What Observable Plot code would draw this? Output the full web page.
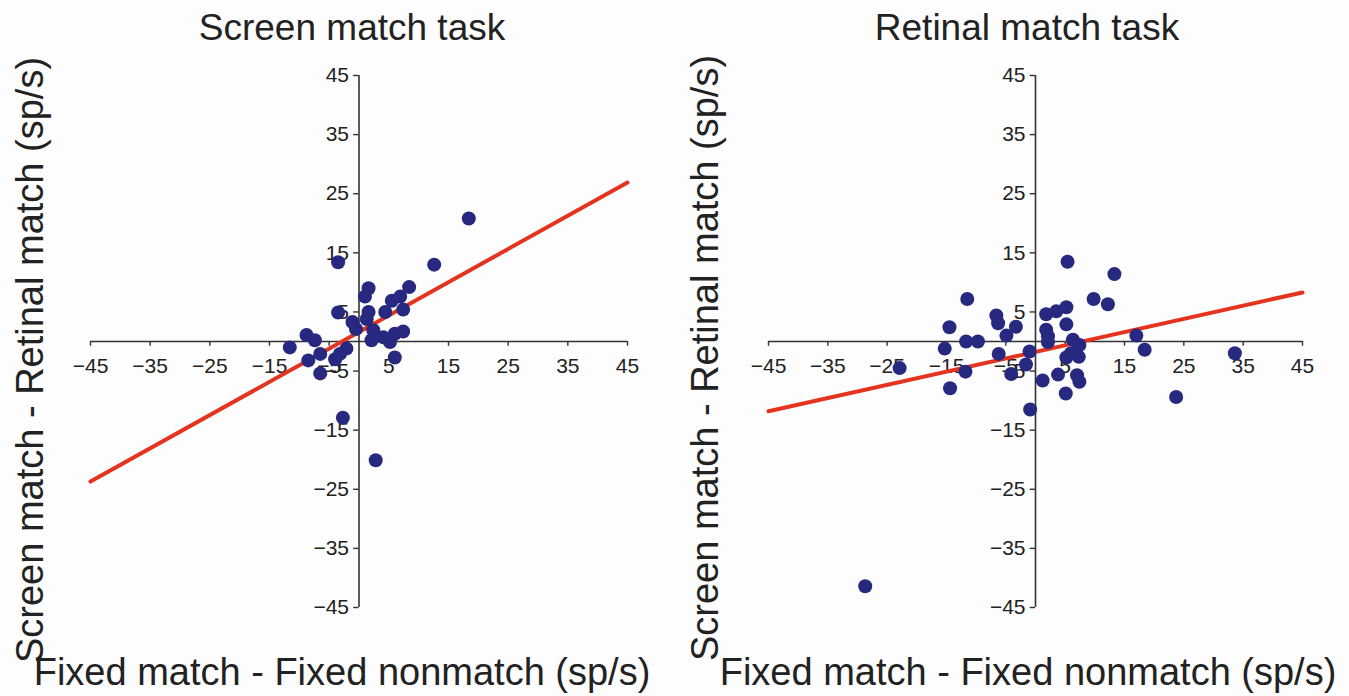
<!DOCTYPE html>
<html>
<head>
<meta charset="utf-8">
<script src="https://cdn.jsdelivr.net/npm/d3@7"></script>
<script src="https://cdn.jsdelivr.net/npm/@observablehq/plot@0.6"></script>
<style>
  html, body { margin: 0; padding: 0; background: #fdfdfd; }
  #wrap { position: relative; width: 1349px; height: 696px; overflow: hidden; font-family: "Liberation Sans", Arial, Helvetica, sans-serif; color: #222; }
  .panel { position: absolute; top: 0; }
  .lbl { position: absolute; white-space: nowrap; line-height: 1; }
  .title { font-size: 37px; transform: translate(-50%, -50%); }
  .xlab { font-size: 38px; transform: translate(-50%, -50%); }
  .ylab { font-size: 38px; transform: translate(-50%, -50%) rotate(-90deg); }
</style>
</head>
<body>
<div id="wrap"></div>
<script>
// ---- data ----
const titles = ["Screen match task", "Retinal match task"];
const xAxisLabel = "Fixed match - Fixed nonmatch (sp/s)";
const yAxisLabel = "Screen match - Retinal match (sp/s)";

const tickValues = [-45, -35, -25, -15, -5, 5, 15, 25, 35, 45];
const tickLabels = ["\u221245", "\u221235", "\u221225", "\u221215", "\u22125", "5", "15", "25", "35", "45"];

const screenX = [-3.5, 12.6, 1.6, 1.0, 8.4, 6.9, 5.5, 7.4, 4.4, -3.5, 1.6, 1.3, -1.1, -0.5, 2.4, 7.4, 6.0, 2.1, 4.1, 5.2, -8.8, -7.4, -11.6, -6.5, -8.5, -6.5, -2.1, -3.2, -4.0, 6.0, -2.7, 2.8, 18.4];
const screenY = [13.4, 13.0, 9.0, 7.6, 9.2, 7.6, 6.9, 5.4, 5.0, 4.9, 5.0, 3.8, 3.3, 2.1, 1.9, 1.7, 1.3, 0.2, 0.7, -0.1, 1.1, 0.2, -1.0, -2.1, -3.2, -5.4, -1.2, -2.1, -3.0, -2.7, -12.9, -20.1, 20.8];

const retinalX = [5.4, 13.3, 9.8, 12.2, -11.5, -14.5, -15.3, -11.7, -9.7, -6.6, -6.3, -3.3, -4.9, -6.2, -1.0, -1.6, -4.1, -11.8, -14.4, -0.9, 1.2, 3.8, 5.1, 1.8, 3.5, 5.2, 1.8, 2.1, 2.1, 5.2, 6.3, 7.4, 6.0, 7.3, 5.2, 7.0, 7.4, 17.0, 18.4, 23.7, -22.9, 33.6, -28.7];
const retinalY = [13.5, 11.4, 7.2, 6.3, 7.2, 2.4, -1.2, 0, 0, 4.4, 3.1, 2.5, 1.0, -2.1, -1.7, -3.9, -5.5, -5.1, -7.9, -11.5, -6.6, -5.6, -8.8, 4.6, 5.1, 5.8, 2.0, 0.9, -0.1, 2.9, 0.3, -0.6, -2.0, -2.6, -2.7, -5.7, -6.8, 1.0, -1.4, -9.4, -4.5, -2.0, -41.4];

const fitX = [-45, 45];
const screenFitY = [-23.7, 26.9];
const retinalFitY = [-11.8, 8.3];

// ---- drawing ----
const wrap = document.getElementById("wrap");
const dotColor = "#27287f";
const lineColor = "#e4341f";
const axisColor = "#333";

function panel(xs, ys, fitYs, left, marginLeft) {
  const pts = xs.map((x, i) => ({x, y: ys[i]}));
  const fit = fitX.map((x, i) => ({x, y: fitYs[i]}));
  const ticks = tickValues.map((v, i) => ({v, label: tickLabels[i]}));
  const svg = Plot.plot({
    width: 674,
    height: 696,
    marginLeft,
    marginRight: 47,
    marginTop: 75,
    marginBottom: 89,
    style: {background: "transparent", fontFamily: "Liberation Sans, Arial, sans-serif"},
    x: {domain: [-45, 45], axis: null},
    y: {domain: [-45, 45], axis: null},
    marks: [
      Plot.ruleY([0], {x1: -45, x2: 45, stroke: axisColor, strokeWidth: 1.6}),
      Plot.ruleX([0], {y1: -45, y2: 45, stroke: axisColor, strokeWidth: 1.6}),
      Plot.ruleX(ticks, {x: "v", y1: 0, y2: -0.8, stroke: axisColor, strokeWidth: 1.4}),
      Plot.ruleY(ticks, {y: "v", x1: -0.9, x2: 0, stroke: axisColor, strokeWidth: 1.4}),
      Plot.text(ticks, {x: "v", y: 0, text: "label", dy: 25, fontSize: 21, fill: "#222"}),
      Plot.text(ticks, {x: 0, y: "v", text: "label", dx: -10, textAnchor: "end", fontSize: 21, fill: "#222"}),
      Plot.line(fit, {x: "x", y: "y", stroke: lineColor, strokeWidth: 4}),
      Plot.dot(pts, {x: "x", y: "y", r: 7, fill: dotColor, stroke: "none"})
    ]
  });
  svg.classList.add("panel");
  svg.style.left = left + "px";
  wrap.appendChild(svg);
}

panel(screenX, screenY, screenFitY, 0, 90);
panel(retinalX, retinalY, retinalFitY, 675, 93);

function label(text, cls, x, y) {
  const d = document.createElement("div");
  d.className = "lbl " + cls;
  d.textContent = text;
  d.style.left = x + "px";
  d.style.top = y + "px";
  wrap.appendChild(d);
}
label(titles[0], "title", 352, 27);
label(titles[1], "title", 1027, 27);
label(xAxisLabel, "xlab", 342, 672);
label(xAxisLabel, "xlab", 1028, 672);
label(yAxisLabel, "ylab", 30, 360);
label(yAxisLabel, "ylab", 705, 358);
</script>
</body>
</html>
